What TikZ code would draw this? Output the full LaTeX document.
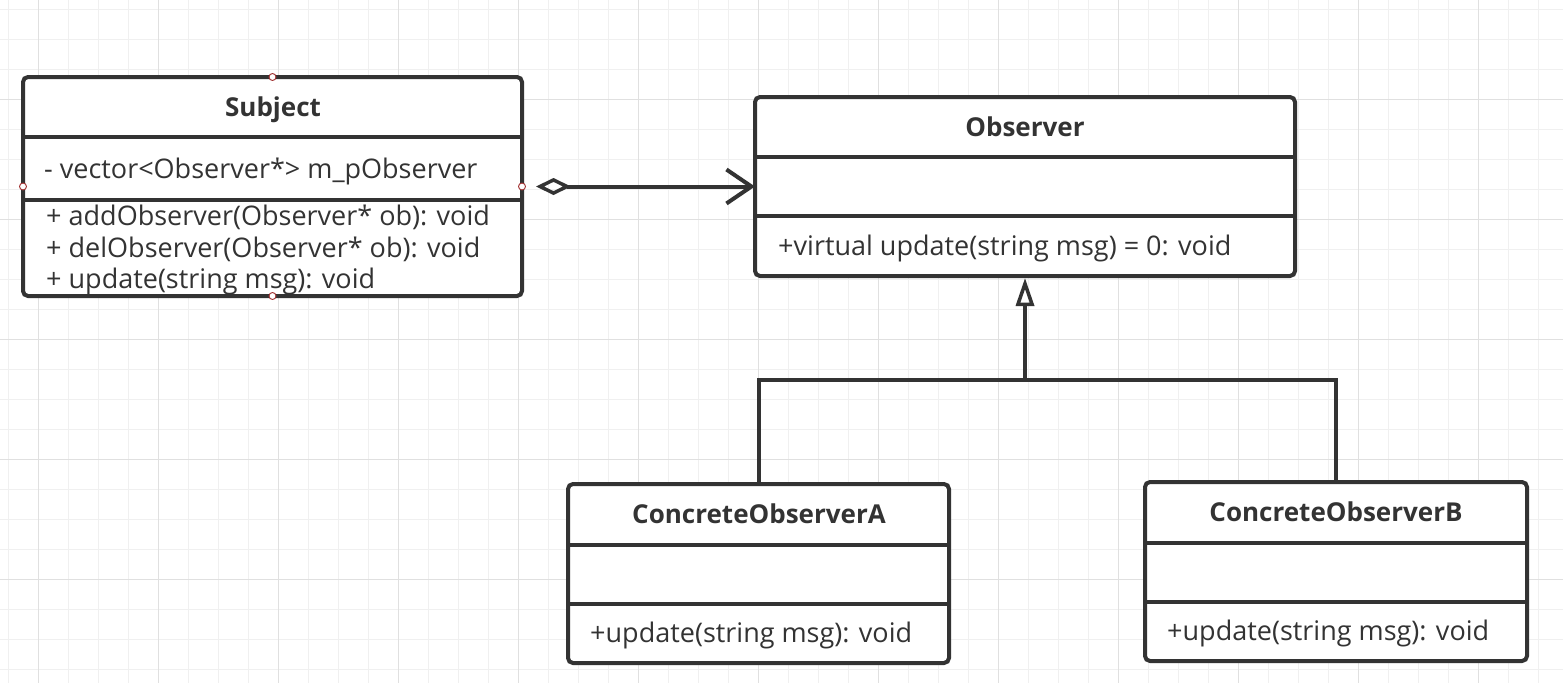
\documentclass[tikz,border=0pt]{standalone}
\usepackage{fontspec}
\setmainfont{Open Sans}
\usetikzlibrary{arrows.meta,calc}
\definecolor{ink}{HTML}{333333}
\definecolor{gminor}{HTML}{F0F0F0}
\definecolor{gmajor}{HTML}{E0E0E0}
\definecolor{hint}{HTML}{A03030}
\tikzset{
  umlbox/.style={draw=ink, line width=4pt, rounded corners=5pt, fill=white, inner sep=0pt, outer sep=0pt, anchor=north west},
  sepline/.style={draw=ink, line width=4pt},
  txt/.style={font=\fontsize{27}{30}\selectfont, text=ink, inner sep=0pt, anchor=base west},
  ttl/.style={font=\fontsize{26}{30}\selectfont\bfseries, text=ink, inner sep=0pt, anchor=base},
  conn/.style={draw=ink, line width=4pt},
  hintpt/.style={circle, draw=hint, fill=white, line width=0.9pt, inner sep=0pt, minimum size=7pt},
}
\begin{document}
\begin{tikzpicture}[x=1pt,y=-1pt]
\useasboundingbox (0,0) rectangle (1563,683);
\fill[white] (0,0) rectangle (1563,683);
% grid
\foreach \gx in {8,38,...,1563} \draw[gminor, line width=1pt] (\gx,0) -- (\gx,683);
\foreach \gy in {9,39,...,683} \draw[gminor, line width=1pt] (0,\gy) -- (1563,\gy);
\foreach \gx in {38,158,...,1563} \draw[gmajor, line width=1pt] (\gx,0) -- (\gx,683);
\foreach \gy in {99,219,...,683} \draw[gmajor, line width=1pt] (0,\gy) -- (1563,\gy);

% Subject
\node[umlbox, minimum width=499pt, minimum height=219pt] (subject) at (23,77) {};
\draw[sepline] (subject.west |- 0,137) -- (subject.east |- 0,137);
\draw[sepline] (subject.west |- 0,200) -- (subject.east |- 0,200);
\node[ttl] (subjectT) at (273,116) {Subject};
\node[txt] (subjectA) at (44,178) {- vector<Observer*> m\_pObserver};
\node[txt] (subjectM1) at (46,225) {+ addObserver(Observer* ob): void};
\node[txt] (subjectM2) at (46,257) {+ delObserver(Observer* ob): void};
\node[txt] (subjectM3) at (46,288) {+ update(string msg): void};

% Observer
\node[umlbox, minimum width=540pt, minimum height=179pt] (observer) at (755,97) {};
\draw[sepline] (observer.west |- 0,157) -- (observer.east |- 0,157);
\draw[sepline] (observer.west |- 0,216) -- (observer.east |- 0,216);
\node[ttl] (observerT) at (1025,136) {Observer};
\node[txt] (observerM) at (778,255) {+virtual update(string msg) = 0: void};

% ConcreteObserverA
\node[umlbox, minimum width=381pt, minimum height=179pt] (coA) at (568,484) {};
\draw[sepline] (coA.west |- 0,545) -- (coA.east |- 0,545);
\draw[sepline] (coA.west |- 0,604) -- (coA.east |- 0,604);
\node[ttl] (coAT) at (759,523) {ConcreteObserverA};
\node[txt] (coAM) at (590,642) {+update(string msg): void};

% ConcreteObserverB
\node[umlbox, minimum width=382pt, minimum height=179pt] (coB) at (1145,482) {};
\draw[sepline] (coB.west |- 0,543) -- (coB.east |- 0,543);
\draw[sepline] (coB.west |- 0,602) -- (coB.east |- 0,602);
\node[ttl] (coBT) at (1336,521) {ConcreteObserverB};
\node[txt] (coBM) at (1167,640) {+update(string msg): void};

% aggregation
\draw[conn, {Diamond[open, length=35pt, width=17pt, line width=3.5pt]}-{Straight Barb[length=25pt, width=34pt, line width=4pt]}]
  ([xshift=14pt]subject.east) -- (observer.west);

% generalization
\coordinate (junction) at (1025,380);
\draw[conn] (coA.north) |- (junction);
\draw[conn] (coB.north) |- (junction);
\draw[conn, -{Triangle[open, length=28pt, width=18pt, line width=3.5pt]}] (junction) -- ([yshift=-2pt]observer.south);

% connection hints
\foreach \a in {north,south,east,west} \node[hintpt] at (subject.\a) {};
\end{tikzpicture}
\end{document}
